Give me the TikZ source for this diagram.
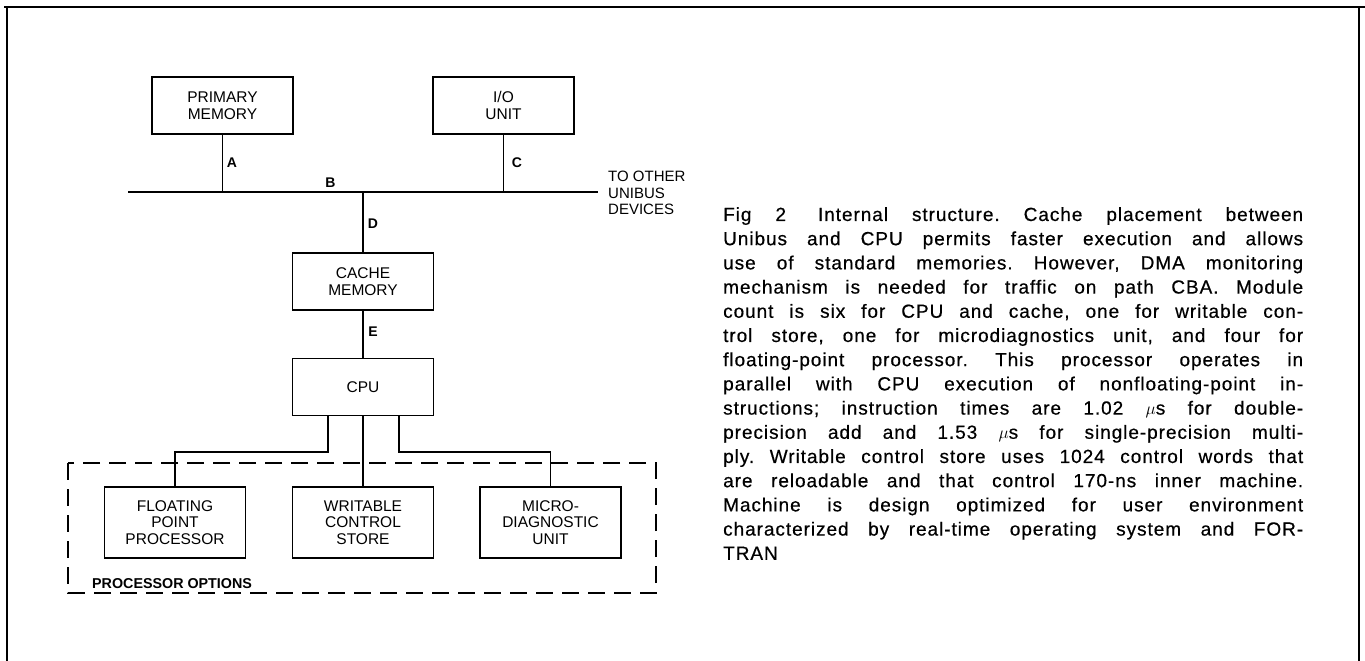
\documentclass[tikz,border=0pt]{standalone}
\usepackage{fontspec}
\setmainfont{Liberation Sans}
\newfontfamily\capfont[LetterSpace=5,FakeBold=0.5]{Liberation Sans}
\usetikzlibrary{positioning}

\begin{document}
\frenchspacing
\begin{tikzpicture}[x=1pt, y=-1pt,
  unit/.style={draw, line width=1.8pt, minimum width=141pt, minimum height=57pt,
    inner sep=0pt, align=center, font=\fontsize{15.5}{16.5}\selectfont},
  optunit/.style={unit, minimum height=71pt},
  wire/.style={line width=1.4pt},
  bus/.style={line width=2pt},
  tag/.style={inner sep=0pt, font=\fontsize{14}{14}\selectfont\bfseries},
  group/.style={line width=1.8pt, dash pattern=on 17pt off 9pt}]
  \useasboundingbox (0,0) rectangle (1365,661);
  % Frame
  \draw[line width=2.6pt] (4,7) -- (1365,7);
  \draw[line width=1.4pt] (7,7) -- (7,661);
  \draw[line width=1.4pt] (1359,7) -- (1359,661);
  % Units
  \node[unit] (pm) at (222.5,105.5) {PRIMARY\\MEMORY};
  \node[unit] (io) at (503.5,105.5) {I/O\\UNIT};
  \node[unit] (cache) at (363,281.5) {CACHE\\MEMORY};
  \node[unit] (cpu) at (363,387) {CPU};
  \node[optunit] (fpp) at (175,522.5) {FLOATING\\POINT\\PROCESSOR};
  \node[optunit] (wcs) at (363,522.5) {WRITABLE\\CONTROL\\STORE};
  \node[optunit] (mdu) at (550.5,522.5) {MICRO-\\DIAGNOSTIC\\UNIT};
  % Unibus
  \coordinate (busL) at (128,192);
  \coordinate (busR) at (598,192);
  \draw[bus] (busL) -- (busR);
  \draw[wire] (pm.south) -- (pm.south |- busL);
  \draw[wire] (io.south) -- (io.south |- busL);
  \draw[wire] (cache.north) -- (cache.north |- busL);
  \draw[wire] (cache.south) -- (cpu.north);
  % Processor options
  \coordinate (fork) at (363,452);
  \draw[wire] ([xshift=-35pt]cpu.south) -- ([xshift=-35pt]cpu.south |- fork) -| (fpp.north);
  \draw[wire] (cpu.south) -- (wcs.north);
  \draw[wire] ([xshift=36pt]cpu.south) -- ([xshift=36pt]cpu.south |- fork) -| (mdu.north);
  \draw[group] (68,463) rectangle (656,593);
  \node[anchor=west, inner sep=0pt, font=\fontsize{14.3}{16}\selectfont\bfseries] (optlbl) at (92,584) {PROCESSOR OPTIONS};
  % Path labels
  \node[tag] (labA) at (232,163) {A};
  \node[tag] (labB) at (330.5,183) {B};
  \node[tag] (labC) at (517,163) {C};
  \node[tag] (labD) at (373,224) {D};
  \node[tag] (labE) at (373,332) {E};
  \node[anchor=west, inner sep=0pt, align=left, font=\fontsize{15}{16.5}\selectfont] (others) at (608,193) {TO OTHER\\UNIBUS\\DEVICES};
  % Caption
  \node[anchor=north west, inner sep=0pt, align=left, font=\capfont\fontsize{19}{24.2}\selectfont] (caption) at (723,207) {%
    \makebox[580pt][s]{Fig 2\hspace{8pt} Internal structure. Cache placement between}\\
    \makebox[580pt][s]{Unibus and CPU permits faster execution and allows}\\
    \makebox[580pt][s]{use of standard memories. However, DMA monitoring}\\
    \makebox[580pt][s]{mechanism is needed for traffic on path CBA. Module}\\
    \makebox[580pt][s]{count is six for CPU and cache, one for writable con-}\\
    \makebox[580pt][s]{trol store, one for microdiagnostics unit, and four for}\\
    \makebox[580pt][s]{floating-point processor. This processor operates in}\\
    \makebox[580pt][s]{parallel with CPU execution of nonfloating-point in-}\\
    \makebox[580pt][s]{structions; instruction times are 1.02 $\mu$s for double-}\\
    \makebox[580pt][s]{precision add and 1.53 $\mu$s for single-precision multi-}\\
    \makebox[580pt][s]{ply. Writable control store uses 1024 control words that}\\
    \makebox[580pt][s]{are reloadable and that control 170-ns inner machine.}\\
    \makebox[580pt][s]{Machine is design optimized for user environment}\\
    \makebox[580pt][s]{characterized by real-time operating system and FOR-}\\
    TRAN};
\end{tikzpicture}
\end{document}
